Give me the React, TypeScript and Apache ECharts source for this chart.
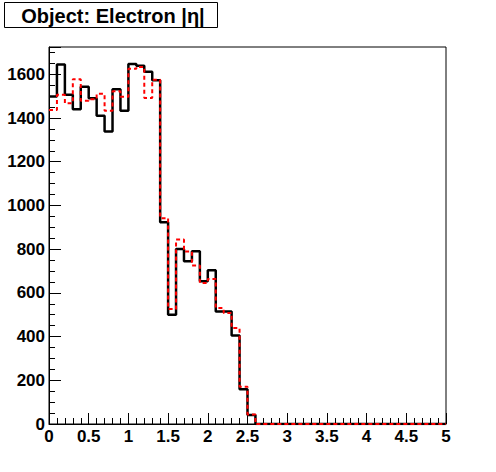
import React, { useEffect, useRef } from "react";
import * as echarts from "echarts";

const binWidth = 0.1;
const xMin = 0;
const xMax = 5;
const yMax = 1725;

const titleText = "Object: Electron |η|";

// black solid histogram (bins of 0.1 from 0 to 5)
const blackValues = [
  1499, 1645, 1506, 1440, 1543, 1491, 1410, 1338, 1532, 1433,
  1647, 1639, 1612, 1573, 923, 500, 801, 745, 790, 653,
  703, 515, 515, 405, 159, 41, 0, 0, 0, 0,
  0, 0, 0, 0, 0, 0, 0, 0, 0, 0,
  0, 0, 0, 0, 0, 0, 0, 0, 0, 0,
];

// red dashed histogram
const redValues = [
  1437, 1506, 1468, 1578, 1479, 1486, 1511, 1433, 1522, 1497,
  1625, 1634, 1492, 1575, 942, 526, 844, 789, 725, 645,
  664, 531, 508, 439, 171, 44, 0, 0, 0, 0,
  0, 0, 0, 0, 0, 0, 0, 0, 0, 0,
  0, 0, 0, 0, 0, 0, 0, 0, 0, 0,
];

function toStep(values: number[]): number[][] {
  const pts: number[][] = values.map((v, i) => [
    +(xMin + i * binWidth).toFixed(2),
    v,
  ]);
  pts.push([xMax, values[values.length - 1]]);
  return pts;
}

export default function App() {
  const ref = useRef<HTMLDivElement>(null);
  useEffect(() => {
    if (!ref.current) return;
    const chart = echarts.init(ref.current, undefined, { renderer: "svg" });
    const font = "'Liberation Sans', Arial, Helvetica, sans-serif";
    chart.setOption({
      animation: false,
      backgroundColor: "#ffffff",
      grid: {
        left: 49,
        right: 50,
        top: 47,
        bottom: 48,
        show: true,
        borderColor: "#000",
        borderWidth: 1,
        backgroundColor: "transparent",
      },
      xAxis: {
        type: "value",
        min: xMin,
        max: xMax,
        interval: 0.5,
        axisLine: { show: true, onZero: false, lineStyle: { color: "#000", width: 1 } },
        axisTick: { show: true, inside: true, length: 11, lineStyle: { color: "#000", width: 1 } },
        minorTick: { show: true, splitNumber: 5, length: 6, lineStyle: { color: "#000", width: 1 } },
        splitLine: { show: false },
        axisLabel: {
          color: "#000",
          fontFamily: font,
          fontWeight: "bold",
          fontSize: 17,
          margin: 4,
          showMinLabel: true,
          showMaxLabel: true,
          formatter: (v: number) => String(+v.toFixed(1)),
        },
      },
      yAxis: {
        type: "value",
        min: 0,
        max: yMax,
        interval: 200,
        axisLine: { show: true, lineStyle: { color: "#000", width: 1 } },
        axisTick: { show: true, inside: true, length: 12, lineStyle: { color: "#000", width: 1 } },
        minorTick: { show: true, splitNumber: 4, length: 6, lineStyle: { color: "#000", width: 1 } },
        splitLine: { show: false },
        axisLabel: {
          color: "#000",
          fontFamily: font,
          fontWeight: "bold",
          fontSize: 17,
          margin: 4,
          showMaxLabel: false,
          formatter: (v: number) => (v % 200 === 0 ? String(v) : ""),
        },
      },
      series: [
        {
          type: "line",
          step: "end",
          data: toStep(blackValues),
          showSymbol: false,
          symbol: "none",
          lineStyle: { color: "#000", width: 2.5, type: "solid" },
          z: 2,
        },
        {
          type: "line",
          step: "end",
          data: toStep(redValues),
          showSymbol: false,
          symbol: "none",
          lineStyle: { color: "#ff0000", width: 2, type: [4, 3] },
          z: 3,
        },
      ],
      graphic: [
        {
          type: "rect",
          shape: { x: 4.5, y: 2.5, width: 213, height: 25 },
          style: { fill: "#fff", stroke: "#000", lineWidth: 1 },
          z: 10,
        },
        {
          type: "text",
          x: 113,
          y: 15.5,
          style: {
            text: titleText,
            fill: "#000",
            font: `bold 20px ${font}`,
            align: "center",
            verticalAlign: "middle",
          },
          z: 11,
        },
      ],
    });
    return () => chart.dispose();
  }, []);
  return <div ref={ref} style={{ width: 496, height: 472, position: "absolute", left: 0, top: 0 }} />;
}
